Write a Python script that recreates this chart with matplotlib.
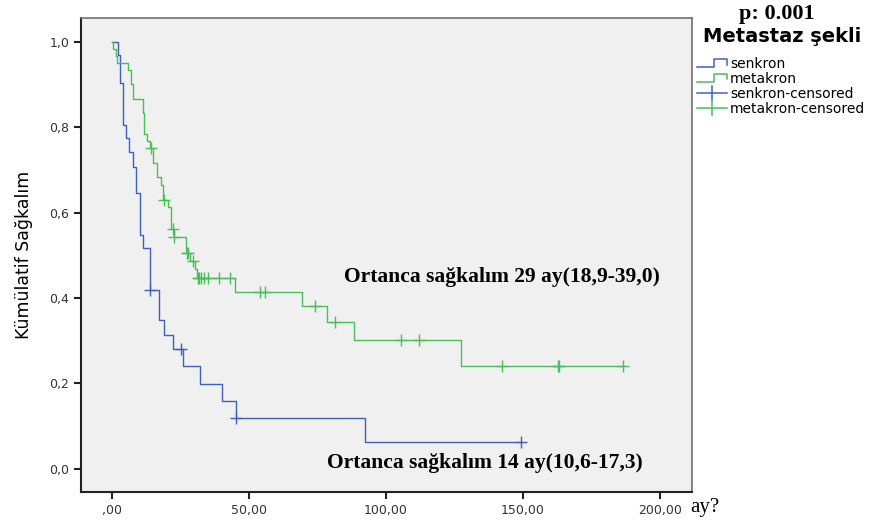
import matplotlib.pyplot as plt
from matplotlib.lines import Line2D
from matplotlib.legend_handler import HandlerBase

# senkron (synchronous metastasis): step times (months) and survival after each step
senkron_t = [0, 2.1, 2.9, 4.1, 5.1, 6.3, 7.6, 8.8, 10.2, 11.4, 14.0, 17.3, 19.0,
             22.2, 26.0, 32.1, 40.3, 45.1, 92.3, 149.3]
senkron_s = [1.0, 0.970, 0.903, 0.806, 0.774, 0.741, 0.708, 0.646, 0.548, 0.517,
             0.419, 0.349, 0.314, 0.280, 0.240, 0.199, 0.159, 0.119, 0.062, 0.062]
senkron_cens_t = [14.0, 25.1, 45.1, 149.3]

# metakron (metachronous metastasis)
metakron_t = [0, 0.5, 1.5, 2.0, 6.0, 6.9, 7.8, 11.2, 11.8, 12.9, 13.9, 14.9, 16.3,
              17.9, 18.7, 20.5, 21.7, 22.6, 27.1, 28.6, 30.3, 30.9, 44.9, 69.2,
              78.3, 88.2, 127.3, 186.5]
metakron_s = [1.0, 0.983, 0.967, 0.951, 0.934, 0.902, 0.867, 0.833, 0.785, 0.769,
              0.751, 0.716, 0.683, 0.665, 0.630, 0.614, 0.561, 0.543, 0.505, 0.488,
              0.467, 0.446, 0.415, 0.381, 0.344, 0.302, 0.240, 0.240]
metakron_cens_t = [14.2, 19.1, 22.2, 22.8, 27.5, 27.9, 29.5, 31.3, 31.9, 32.5, 33.7,
                   35.1, 39.2, 43.1, 54.0, 55.8, 74.1, 81.4, 105.4, 112.2, 142.2,
                   162.9, 163.3, 186.4]

x_ticks = [0, 50, 100, 150, 200]
x_labels = [',00', '50,00', '100,00', '150,00', '200,00']
y_ticks = [0.0, 0.2, 0.4, 0.6, 0.8, 1.0]
y_labels = ['0,0', '0,2', '0,4', '0,6', '0,8', '1,0']

blue = '#4060c0'
green = '#48c058'


def surv_at(ts, ss, t):
    v = ss[0]
    for ti, si in zip(ts, ss):
        if ti <= t:
            v = si
    return v


fig = plt.figure(figsize=(8.71, 5.25), dpi=100)
ax = fig.add_axes([0.093, 0.063, 0.7015, 0.9027])
ax.set_facecolor('#f0f0f0')

ax.step(senkron_t, senkron_s, where='post', color=blue, lw=1.0)
ax.step(metakron_t, metakron_s, where='post', color=green, lw=1.0)
ax.plot(senkron_cens_t, [surv_at(senkron_t, senkron_s, t) for t in senkron_cens_t],
        ls='none', marker='+', ms=9, mew=1.0, color=blue)
ax.plot(metakron_cens_t, [surv_at(metakron_t, metakron_s, t) for t in metakron_cens_t],
        ls='none', marker='+', ms=9, mew=1.0, color=green)

ax.set_xlim(-11.3, 211.7)
ax.set_ylim(-0.054, 1.056)
ax.set_xticks(x_ticks, labels=x_labels)
ax.set_yticks(y_ticks, labels=y_labels)
ax.tick_params(length=5, width=1.5, color='#222222', labelsize=9, labelcolor='#333333')
ax.tick_params(axis='x', pad=4)
for side in ['left', 'bottom']:
    ax.spines[side].set_linewidth(1.5)
    ax.spines[side].set_color('#222222')
for side in ['top', 'right']:
    ax.spines[side].set_linewidth(1.2)
    ax.spines[side].set_color('#707070')

ax.set_ylabel('Kümülatif Sağkalım', fontsize=12.5, labelpad=12)

ax.text(0.43, 0.454, 'Ortanca sağkalım 29 ay(18,9-39,0)', transform=ax.transAxes,
        family='Liberation Serif', weight='bold', fontsize=15.5, va='center', ha='left')
ax.text(0.403, 0.061, 'Ortanca sağkalım 14 ay(10,6-17,3)', transform=ax.transAxes,
        family='Liberation Serif', weight='bold', fontsize=15.5, va='center', ha='left')

fig.text(0.792, 0.034, 'ay?', family='Liberation Serif', fontsize=15, va='center')
fig.text(0.892, 0.973, 'p: 0.001', family='Liberation Serif', weight='bold', fontsize=16,
         ha='center', va='center')


class StepHandler(HandlerBase):
    def create_artists(self, legend, orig_handle, xdescent, ydescent, width, height,
                       fontsize, trans):
        h = height
        xs = [0, width * 0.55, width * 0.55, width, width]
        ys = [h * 0.15, h * 0.15, h * 0.95, h * 0.95, h * 0.4]
        ln = Line2D(xs, ys, color=orig_handle.get_color(), lw=1.1, transform=trans)
        return [ln]


class CensHandler(HandlerBase):
    def create_artists(self, legend, orig_handle, xdescent, ydescent, width, height,
                       fontsize, trans):
        c = orig_handle.get_color()
        l1 = Line2D([0, width], [height / 2, height / 2], color=c, lw=1.1, transform=trans)
        l2 = Line2D([width * 0.5, width * 0.5], [-height * 0.2, height * 1.2], color=c,
                    lw=1.1, transform=trans)
        return [l1, l2]


h1 = Line2D([], [], color=blue)
h2 = Line2D([], [], color=green)
h3 = Line2D([], [], color=blue, marker='+')
h4 = Line2D([], [], color=green, marker='+')
leg = fig.legend([h1, h2, h3, h4],
                 ['senkron', 'metakron', 'senkron-censored', 'metakron-censored'],
                 handler_map={h1: StepHandler(), h2: StepHandler(),
                              h3: CensHandler(), h4: CensHandler()},
                 loc='upper left', bbox_to_anchor=(0.800, 0.948), frameon=False,
                 prop={'size': 10},
                 handlelength=2.2, handletextpad=0.2, labelspacing=0.06,
                 borderpad=0, borderaxespad=0,
                 title='Metastaz şekli',
                 title_fontproperties={'weight': 'bold', 'size': 14})
leg._legend_box.align = 'left'
leg._legend_box.sep = 8
leg.get_title().set_position((6, 0))

fig.savefig('out.png', dpi=100, facecolor='white')
